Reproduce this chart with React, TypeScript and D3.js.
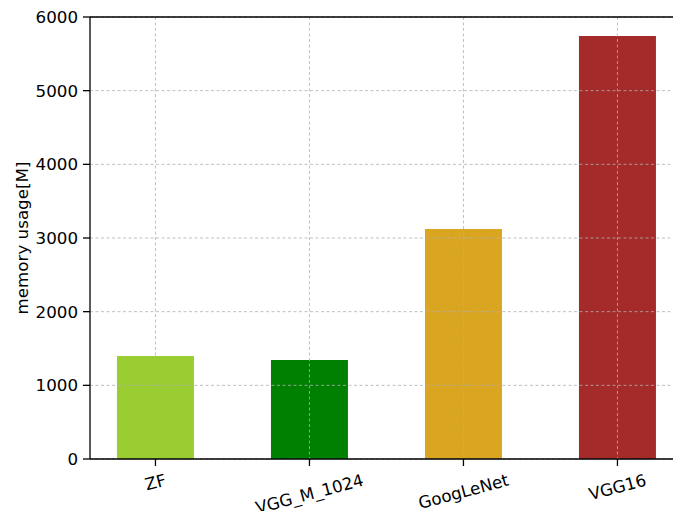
import React, { useEffect, useRef } from "react";
import * as d3 from "d3";

const categories = ["ZF", "VGG_M_1024", "GoogLeNet", "VGG16"];
const values = [1398, 1344, 3122, 5742];
const colors = ["#9ACD32", "#008000", "#DAA520", "#A52A2A"];
const yTicks = [0, 1000, 2000, 3000, 4000, 5000, 6000];
const yLabel = "memory usage[M]";

const W = 673;
const H = 511;
const FONT = "DejaVu Sans, sans-serif";
const FS = 16.7;

export default function App() {
  const ref = useRef<SVGSVGElement>(null);
  useEffect(() => {
    const svg = d3.select(ref.current);
    svg.selectAll("*").remove();
    const left = 90, top = 17, bottom = 459;
    const tickLen = 7;
    const x = d3.scaleLinear().domain([-0.425, 3.425]).range([left, left + 3.85 * 154]);
    const y = d3.scaleLinear().domain([0, 6000]).range([bottom, top]);
    const bw = x(0.5) - x(0);

    // bars
    svg.append("g").selectAll("rect").data(values).enter().append("rect")
      .attr("x", (_, i) => x(i) - bw / 2)
      .attr("width", bw)
      .attr("y", (d) => y(d))
      .attr("height", (d) => y(0) - y(d))
      .attr("fill", (_, i) => colors[i]);

    // grid
    const g = svg.append("g").attr("stroke", "#b0b0b0").attr("stroke-opacity", 0.9)
      .attr("stroke-width", 0.9).attr("stroke-dasharray", "3,2.5").attr("fill", "none");
    yTicks.forEach((t) => {
      g.append("line").attr("x1", left).attr("x2", x(3.425)).attr("y1", y(t)).attr("y2", y(t));
    });
    categories.forEach((_, i) => {
      g.append("line").attr("x1", x(i)).attr("x2", x(i)).attr("y1", top).attr("y2", bottom);
    });

    // spines
    const s = svg.append("g").attr("stroke", "#000").attr("stroke-width", 1.3).attr("fill", "none");
    s.append("line").attr("x1", left).attr("x2", left).attr("y1", top).attr("y2", bottom);
    s.append("line").attr("x1", left).attr("x2", x(3.425)).attr("y1", bottom).attr("y2", bottom);
    s.append("line").attr("x1", left).attr("x2", x(3.425)).attr("y1", top).attr("y2", top);
    s.append("line").attr("x1", x(3.425)).attr("x2", x(3.425)).attr("y1", top).attr("y2", bottom);

    // y ticks
    yTicks.forEach((t) => {
      s.append("line").attr("x1", left - tickLen).attr("x2", left).attr("y1", y(t)).attr("y2", y(t));
      svg.append("text").attr("x", left - tickLen - 5).attr("y", y(t)).attr("dy", "0.36em")
        .attr("text-anchor", "end").attr("font-family", FONT).attr("font-size", FS)
        .attr("fill", "#000").text(String(t));
    });

    // x ticks
    const ang = 15;
    const rad = (ang * Math.PI) / 180;
    categories.forEach((c, i) => {
      s.append("line").attr("x1", x(i)).attr("x2", x(i)).attr("y1", bottom).attr("y2", bottom + tickLen);
      const t = svg.append("text").attr("font-family", FONT).attr("font-size", FS)
        .attr("fill", "#000").attr("text-anchor", "middle").attr("dy", "0.36em").text(c);
      const w = (t.node() as SVGTextElement).getComputedTextLength();
      const h = FS * 1.16;
      const bh = w * Math.sin(rad) + h * Math.cos(rad);
      const cy = bottom + tickLen + 4 + bh / 2;
      t.attr("transform", `translate(${x(i)},${cy}) rotate(${-ang})`);
    });

    // y label
    svg.append("text").attr("transform", `translate(22,${(top + bottom) / 2}) rotate(-90)`)
      .attr("text-anchor", "middle").attr("dy", "0.36em").attr("font-family", FONT)
      .attr("font-size", FS).attr("fill", "#000").text(yLabel);
  }, []);
  return (
    <svg ref={ref} width={W} height={H}
      style={{ position: "absolute", left: 0, top: 0, background: "#fff" }} />
  );
}
